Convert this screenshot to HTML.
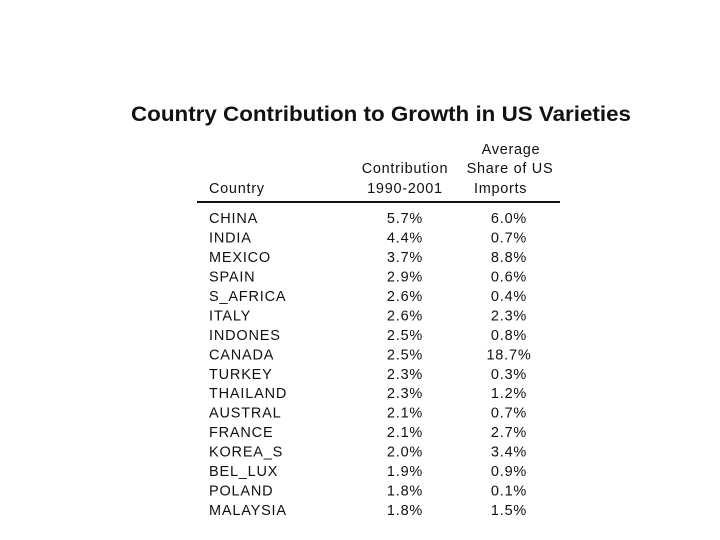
<!DOCTYPE html>
<html><head><meta charset="utf-8"><style>
html,body{margin:0;padding:0;background:#fff;}
svg{display:block;font-family:"Liberation Sans",Arial,sans-serif;}
</style></head><body>
<svg width="720" height="540" viewBox="0 0 720 540">
<text x="131" y="121" font-size="21.5" font-weight="bold" fill="#111" textLength="500" lengthAdjust="spacingAndGlyphs">Country Contribution to Growth in US Varieties</text>
<g font-size="14.5" fill="#111" letter-spacing="0.7">
<text x="511" y="154" text-anchor="middle">Average</text>
<text x="405" y="173" text-anchor="middle">Contribution</text>
<text x="510" y="173" text-anchor="middle">Share of US</text>
<text x="209" y="193">Country</text>
<text x="405" y="193" text-anchor="middle">1990-2001</text>
<text x="474" y="193">Imports</text>
</g>
<line x1="197" y1="202" x2="560" y2="202" stroke="#111" stroke-width="2"/>
<g id="rows" font-size="14.5" fill="#111" letter-spacing="0.8"></g>
</svg>
<script>
const countries=["CHINA","INDIA","MEXICO","SPAIN","S_AFRICA","ITALY","INDONES","CANADA","TURKEY","THAILAND","AUSTRAL","FRANCE","KOREA_S","BEL_LUX","POLAND","MALAYSIA"];
const contribution=["5.7%","4.4%","3.7%","2.9%","2.6%","2.6%","2.5%","2.5%","2.3%","2.3%","2.1%","2.1%","2.0%","1.9%","1.8%","1.8%"];
const share=["6.0%","0.7%","8.8%","0.6%","0.4%","2.3%","0.8%","18.7%","0.3%","1.2%","0.7%","2.7%","3.4%","0.9%","0.1%","1.5%"];
const g=document.getElementById('rows');
const NS='http://www.w3.org/2000/svg';
function rowY(i){return 223+i*19.47;}
function mk(x,y,t,anchor){const e=document.createElementNS(NS,'text');e.setAttribute('x',x);e.setAttribute('y',y);if(anchor)e.setAttribute('text-anchor',anchor);e.textContent=t;g.appendChild(e);return e;}
countries.forEach((c,i)=>{
 const y=rowY(i);
 const a=mk(209,y,c);
 
 
 const b=mk(405,y,contribution[i],'middle');
 
 
 const s=mk(509,y,share[i],'middle');
 
 
});
</script>
</body></html>
